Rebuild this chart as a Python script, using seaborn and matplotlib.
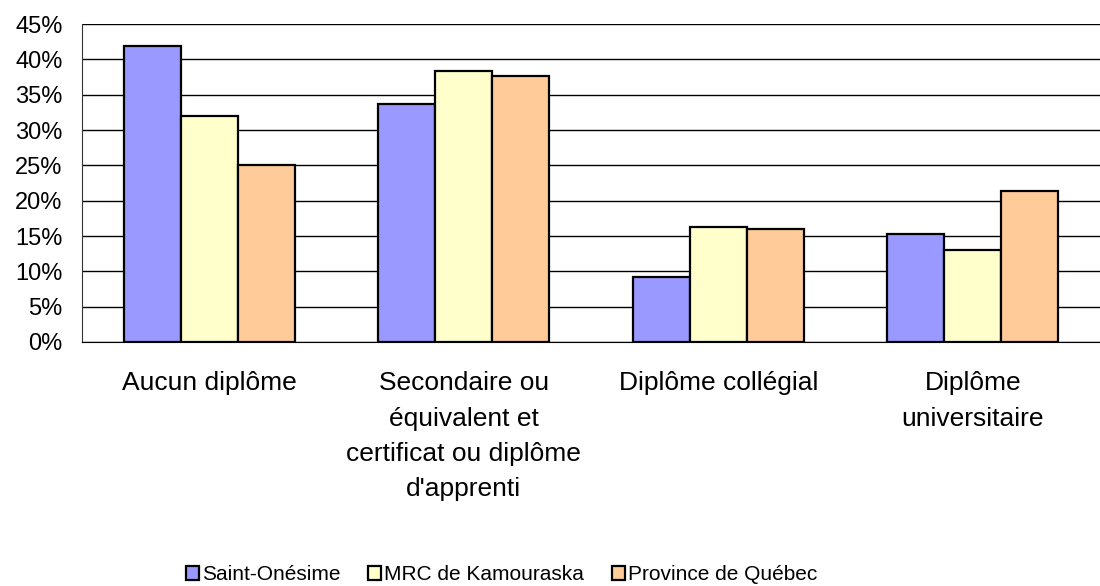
import pandas as pd
import matplotlib
matplotlib.use("Agg")
import matplotlib.pyplot as plt
import seaborn as sns
from matplotlib.ticker import PercentFormatter
from matplotlib.patches import Patch

categories = ["Aucun diplôme",
              "Secondaire ou\néquivalent et\ncertificat ou diplôme\nd'apprenti",
              "Diplôme collégial",
              "Diplôme\nuniversitaire"]
zones = ["Saint-Onésime", "MRC de Kamouraska", "Province de Québec"]
saint_onesime = [41.9, 33.7, 9.2, 15.3]
mrc_kamouraska = [32.0, 38.4, 16.3, 13.0]
province_quebec = [25.0, 37.6, 16.0, 21.3]
colors = ["#9999FF", "#FFFFCC", "#FFCC99"]

rows = []
for zone, vals in zip(zones, [saint_onesime, mrc_kamouraska, province_quebec]):
    for cat, v in zip(categories, vals):
        rows.append({"niveau": cat, "zone": zone, "pct": v})
df = pd.DataFrame(rows)

sns.set_style("white")
plt.rcParams["font.family"] = ["Liberation Sans", "DejaVu Sans"]
plt.rcParams["text.color"] = "black"
plt.rcParams["xtick.color"] = "black"
plt.rcParams["ytick.color"] = "black"

fig = plt.figure(figsize=(11, 5.86), dpi=100)
ax = fig.add_axes([0.0745, 0.4164, 0.9255, 0.5426])

sns.barplot(data=df, x="niveau", y="pct", hue="zone", order=categories,
            hue_order=zones, palette=dict(zip(zones, colors)), saturation=1,
            width=0.672, edgecolor="black", linewidth=1.6, errorbar=None,
            legend=False, ax=ax, zorder=3)

ax.set_ylim(0, 45)
ax.set_xlim(-0.5, 3.5)
ax.set_yticks(range(0, 46, 5))
ax.yaxis.set_major_formatter(PercentFormatter(decimals=0))
ax.grid(axis="y", color="black", linewidth=1, zorder=0)
ax.set_axisbelow(True)
ax.set_xlabel("")
ax.set_ylabel("")
for s in ["top", "right"]:
    ax.spines[s].set_visible(False)
ax.spines["left"].set_color("#333333")
ax.spines["bottom"].set_color("black")
ax.tick_params(axis="y", labelsize=17, length=0, pad=14, labelcolor="black")
ax.tick_params(axis="x", labelsize=19, length=0, pad=21, labelcolor="black")
for lab in ax.get_xticklabels():
    lab.set_linespacing(1.6)
    lab.set_verticalalignment("top")

handles = [Patch(facecolor=c, edgecolor="black", linewidth=1.6, label=z)
           for z, c in zip(zones, colors)]
fig.legend(handles=handles, loc="center", bbox_to_anchor=(0.456, 0.019),
           ncol=3, frameon=False, fontsize=15.0, handlelength=0.6,
           handleheight=0.6, handletextpad=0.15, columnspacing=1.35,
           borderpad=0, labelcolor="black")

fig.savefig("out.png", dpi=100)
